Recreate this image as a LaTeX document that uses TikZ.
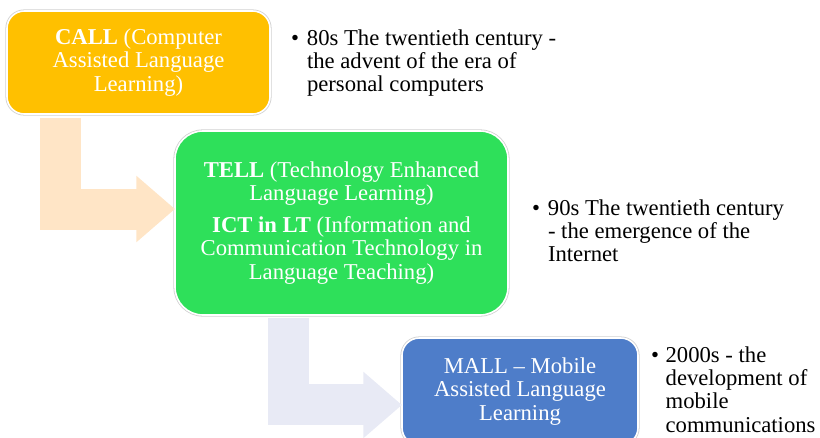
\documentclass[tikz,border=0pt]{standalone}
\usepackage{fontspec}
\setmainfont{Liberation Serif}
\usepackage{xcolor}
\usetikzlibrary{positioning, arrows.meta}

\definecolor{callamber}{HTML}{FFC000}
\definecolor{tellgreen}{HTML}{2EE05A}
\definecolor{mallblue}{HTML}{4E7DC9}
\definecolor{peach}{HTML}{FFE5C6}
\definecolor{lavender}{HTML}{E8EAF5}

\begin{document}
\begin{tikzpicture}[
  box/.style={rectangle, rounded corners=13pt, draw=white, line width=1.2pt,
    preaction={draw=black!18, line width=2.4pt}, align=center, text=white,
    inner sep=0pt, outer sep=0pt, font=\fontsize{17}{17.6}\selectfont},
  bent/.style={line width=30.75pt, -{Triangle[length=29pt, width=48pt]}},
  note/.style={anchor=base west, inner sep=0pt, outer sep=0pt, font=\fontsize{17}{17.6}\selectfont}
]
\useasboundingbox (0,0) rectangle (615pt,-327.75pt);

% the three stages
\node[box, fill=callamber, minimum width=197.25pt, minimum height=77.25pt, anchor=north west]
  (call) at (5.25pt,-8.25pt) {\textbf{CALL} (Computer\\Assisted Language\\Learning)};
\node[box, fill=tellgreen, rounded corners=21pt, minimum width=249.75pt, minimum height=138pt,
  below right=12.75pt and -71.25pt of call.south east]
  (tell) {\textbf{TELL} (Technology Enhanced\\Language Learning)\\[6pt]
          \textbf{ICT in LT} (Information and\\Communication Technology in\\Language Teaching)};
\node[box, fill=mallblue, minimum width=177pt, minimum height=80.25pt,
  below right=17.25pt and -79.5pt of tell.south east]
  (mall) {MALL \textendash{} Mobile\\Assisted Language\\Learning};

% bent block arrows between stages
\draw[bent, draw=peach] ([xshift=40.1pt, yshift=-3pt]call.south west) |- ([yshift=10.5pt]tell.west);
\draw[bent, draw=lavender] ([xshift=85.1pt, yshift=-2pt]tell.south west) |- ([yshift=-10.1pt]mall.west);

% dates beside each stage
\node[right=15.75pt of call.north east, yshift=-25.5pt, note] (era80)
  {\begin{tabular}[t]{@{}p{12pt}@{}l@{}}
   \textbullet & 80s The twentieth century -\\
               & the advent of the era of\\
               & personal computers
   \end{tabular}};
\node[right=18pt of tell.east, yshift=6pt, note] (era90)
  {\begin{tabular}[t]{@{}p{12pt}@{}l@{}}
   \textbullet & 90s The twentieth century\\
               & - the emergence of the\\
               & Internet
   \end{tabular}};
\node[right=9.75pt of mall.north east, yshift=-18pt, note] (era00)
  {\begin{tabular}[t]{@{}p{11pt}@{}l@{}}
   \textbullet & 2000s - the\\
               & development of\\
               & mobile\\
               & communications
   \end{tabular}};
\end{tikzpicture}
\end{document}
